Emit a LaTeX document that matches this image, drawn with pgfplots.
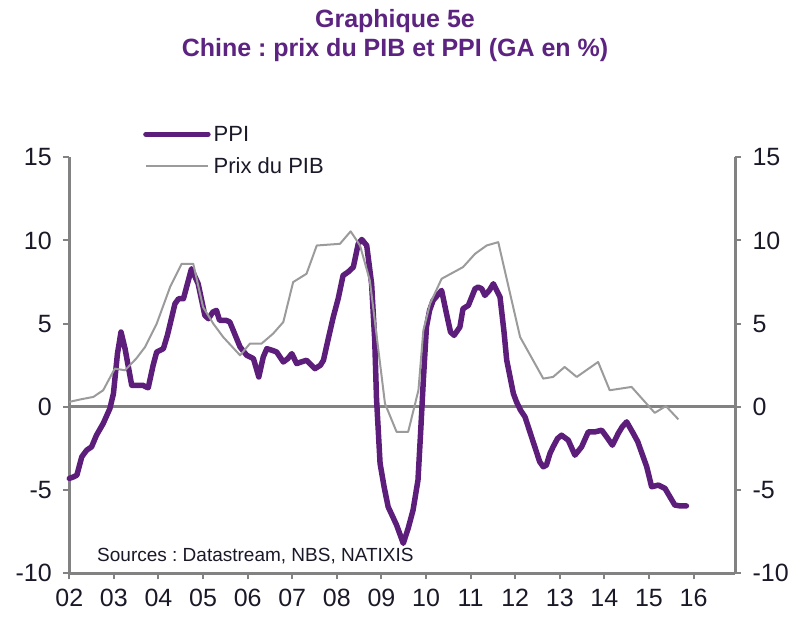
\documentclass[border=0pt]{standalone}
\usepackage{pgfplots}
\pgfplotsset{compat=1.18}
\usepackage{fontspec}
\setmainfont{Liberation Sans}
\frenchspacing
\definecolor{titlepurple}{RGB}{92,36,128}
\definecolor{ppicol}{RGB}{92,30,122}
\definecolor{pibcol}{RGB}{155,155,155}
\definecolor{axgray}{RGB}{130,130,130}
\definecolor{txtcol}{RGB}{25,25,40}
\begin{document}
\begin{tikzpicture}[x=1pt,y=1pt]
\useasboundingbox (0,0) rectangle (795,617);
\pgfplotsset{
  common/.style={
    at={(69.3pt,43.7pt)}, anchor=south west,
    scale only axis, width=665.7pt, height=416pt,
    xmin=2002, xmax=2016.93, ymin=-10, ymax=15,
    axis line style={line width=3pt, color=axgray},
    tick align=outside, major tick length=6pt,
    every tick/.style={line width=2pt, color=axgray},
    ytick={-10,-5,0,5,10,15},
    yticklabels={-10,-5,0,5,10,15},
    ticklabel style={font=\fontsize{25}{29}\selectfont, text=txtcol},
    clip=false,
  }
}
\begin{axis}[common,
  axis x line*=bottom, axis y line*=left,
  xtick={2002,2003,2004,2005,2006,2007,2008,2009,2010,2011,2012,2013,2014,2015,2016},
  xticklabels={02,03,04,05,06,07,08,09,10,11,12,13,14,15,16},
  yticklabel style={xshift=-8pt},
  xticklabel style={yshift=-6pt},
  legend style={at={(0.1107,1.083)}, anchor=north west, draw=none, fill=none,
    font=\fontsize{22}{26}\selectfont, text=txtcol, inner sep=0pt, row sep=9pt,
    nodes={inner sep=3pt}},
  legend cell align=left,
  legend image code/.code={\draw[#1] (0pt,0pt) -- (62pt,0pt);},
]
\addplot[axgray, line width=3pt, forget plot] coordinates {(2002,0) (2016.93,0)};
\addplot[ppicol, line width=5.5pt, line join=round, line cap=round] coordinates {
(2002.00,-4.3) (2002.10,-4.2) (2002.17,-4.1) (2002.28,-3.0) (2002.39,-2.6)
(2002.50,-2.4) (2002.61,-1.7) (2002.76,-1.0) (2002.91,-0.1) (2002.99,0.8)
(2003.08,3.2) (2003.16,4.5) (2003.25,3.5) (2003.40,1.3) (2003.50,1.3)
(2003.65,1.3) (2003.72,1.2) (2003.77,1.15) (2003.88,2.5) (2003.96,3.3)
(2004.11,3.5) (2004.20,4.3) (2004.37,6.2) (2004.45,6.5) (2004.56,6.5)
(2004.74,8.3) (2004.89,7.4) (2005.04,5.5) (2005.12,5.3) (2005.22,5.7)
(2005.30,5.8) (2005.37,5.2) (2005.45,5.2) (2005.52,5.2) (2005.60,5.1)
(2005.83,3.6) (2005.98,3.1) (2006.13,2.9) (2006.25,1.8) (2006.35,3.0)
(2006.43,3.5) (2006.55,3.4) (2006.65,3.3) (2006.80,2.7) (2006.90,2.9)
(2006.99,3.2) (2007.10,2.6) (2007.20,2.7) (2007.32,2.8) (2007.51,2.3)
(2007.63,2.5) (2007.70,2.8) (2007.80,4.0) (2007.92,5.4) (2008.03,6.5)
(2008.14,7.9) (2008.25,8.1) (2008.37,8.4) (2008.48,9.8) (2008.56,10.06)
(2008.67,9.7) (2008.78,7.4) (2008.85,4.0) (2008.89,0.5) (2008.97,-3.4)
(2009.06,-4.8) (2009.15,-6.0) (2009.34,-7.1) (2009.49,-8.2) (2009.60,-7.3)
(2009.71,-6.2) (2009.82,-4.4) (2009.88,-1.5) (2009.94,1.6) (2010.01,4.8)
(2010.08,5.8) (2010.16,6.4) (2010.35,7.0) (2010.46,5.6) (2010.55,4.5)
(2010.63,4.3) (2010.76,4.8) (2010.83,5.9) (2010.95,6.1) (2011.10,7.1)
(2011.17,7.2) (2011.25,7.1) (2011.32,6.7) (2011.42,7.0) (2011.51,7.4)
(2011.66,6.6) (2011.75,4.5) (2011.81,2.8) (2011.96,0.8) (2012.03,0.3)
(2012.12,-0.2) (2012.22,-0.6) (2012.33,-1.5) (2012.44,-2.4) (2012.55,-3.3)
(2012.63,-3.6) (2012.70,-3.5) (2012.78,-2.8) (2012.85,-2.4) (2012.95,-1.9)
(2013.04,-1.7) (2013.19,-2.0) (2013.34,-2.9) (2013.49,-2.4) (2013.64,-1.5)
(2013.79,-1.5) (2013.94,-1.4) (2014.05,-1.8) (2014.18,-2.3) (2014.31,-1.6)
(2014.40,-1.2) (2014.50,-0.9) (2014.65,-1.6) (2014.75,-2.1) (2014.83,-2.7)
(2014.95,-3.6) (2015.06,-4.8) (2015.21,-4.7) (2015.36,-4.9) (2015.47,-5.4)
(2015.58,-5.9) (2015.70,-5.95) (2015.84,-5.95)
};
\addlegendentry{PPI}
\addplot[pibcol, line width=2pt, line join=round] coordinates {
(2002.00,0.3) (2002.25,0.45) (2002.54,0.6) (2002.76,1.0) (2003.02,2.3)
(2003.25,2.2) (2003.50,2.9) (2003.70,3.6) (2003.96,5.0) (2004.26,7.2)
(2004.52,8.6) (2004.78,8.6) (2005.00,6.0) (2005.23,5.0) (2005.45,4.2)
(2005.83,3.1) (2006.05,3.8) (2006.31,3.8) (2006.57,4.4) (2006.80,5.1)
(2007.02,7.5) (2007.32,8.0) (2007.55,9.7) (2008.07,9.8) (2008.31,10.55)
(2008.52,9.7) (2008.74,7.6) (2009.08,0.2) (2009.34,-1.5) (2009.60,-1.5)
(2009.83,1.0) (2009.94,4.6) (2010.09,6.2) (2010.35,7.7) (2010.83,8.4)
(2011.10,9.2) (2011.36,9.7) (2011.62,9.9) (2012.11,4.2) (2012.63,1.7)
(2012.85,1.8) (2013.11,2.4) (2013.38,1.8) (2013.86,2.7) (2014.12,1.0)
(2014.61,1.2) (2015.13,-0.36) (2015.38,0.05) (2015.66,-0.75)
};
\addlegendentry{Prix du PIB}
\end{axis}
\begin{axis}[common,
  axis x line=none, axis y line*=right,
  yticklabel style={xshift=8pt},
]
\addplot[draw=none] coordinates {(2002,0)};
\end{axis}
\node[anchor=base west, inner sep=0pt, font=\fontsize{19}{22}\selectfont, text=txtcol] at (97,55.3) {Sources : Datastream, NBS, NATIXIS};
\node[anchor=base, font=\bfseries\fontsize{25}{29}\selectfont, text=titlepurple] at (395,589) {Graphique 5e};
\node[anchor=base, font=\bfseries\fontsize{25}{29}\selectfont, text=titlepurple] at (395,560) {Chine : prix du PIB et PPI (GA en \%)};
\end{tikzpicture}
\end{document}
